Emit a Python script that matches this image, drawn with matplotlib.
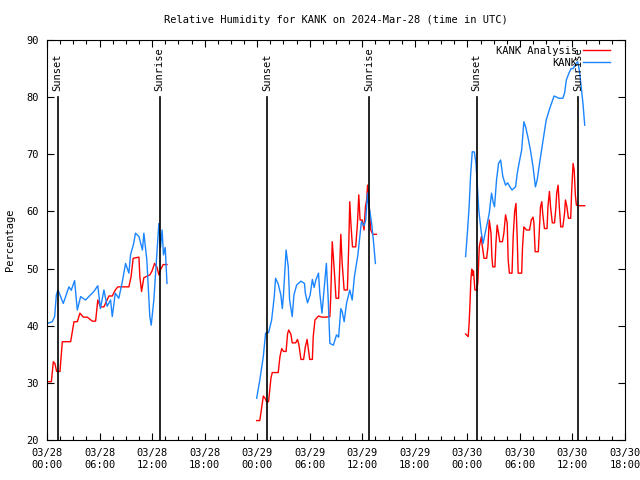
import matplotlib
matplotlib.use('Agg')
import matplotlib.pyplot as plt
import matplotlib.dates as mdates
import numpy as np
import pandas as pd

plt.rcParams['font.family'] = 'DejaVu Sans Mono'
plt.rcParams['font.size'] = 7

start = pd.Timestamp('2024-03-28 00:00')

# hours after 03/28 00:00 UTC
obs_hours = [0.04, 0.6, 0.87, 1.07, 1.25, 1.86, 2.5, 2.77, 3.15, 3.46, 3.84, 4.4, 4.98, 5.36, 5.8,
             6.1, 6.5, 6.87, 7.26, 7.45, 7.8, 8.2, 8.6, 8.97, 9.35, 9.54, 9.9, 10.1, 10.5, 10.9,
             11.06, 11.4, 11.74, 11.9, 12.2, 12.5, 12.77, 12.96, 13.14, 13.3, 13.5, 13.7,
             None,
             23.94, 24.3, 24.7, 24.96, 25.3, 25.65, 25.95, 26.1, 26.4, 26.7, 26.87, 27.0, 27.3,
             27.55, 27.7, 28.0, 28.2, 28.5, 29.0, 29.4, 29.5, 29.75, 30.05, 30.3, 30.5, 30.7,
             31.0, 31.15, 31.4, 31.7, 31.9, 32.1, 32.3, 32.7, 33.06, 33.3, 33.55, 33.7, 33.93,
             34.2, 34.57, 34.85, 35.1, 35.5, 35.9, 36.2, 36.4, 36.6, 36.7, 36.9, 37.1, 37.3, 37.5,
             None,
             47.8, 48.0, 48.2, 48.37, 48.56, 48.8, 48.98, 49.13, 49.3, 49.6, 49.8, 50.07, 50.27,
             50.5, 50.76, 50.95, 51.1, 51.33, 51.56, 51.8, 52.05, 52.36, 52.6, 52.86, 53.1, 53.5,
             53.7, 53.9, 54.2, 54.45, 54.65, 54.9, 55.2, 55.5, 55.77, 55.97, 56.3, 56.65, 57.0,
             57.4, 57.9, 58.2, 58.44, 58.9, 59.1, 59.3, 59.6, 59.84, 60.1, 60.4, 60.6, 60.8,
             61.0, 61.2, 61.4]
obs_rh = [40.4, 40.7, 41.6, 45.4, 46.25, 43.9, 46.8, 46.2, 47.9, 42.75, 45.1, 44.5, 45.4, 46.0, 47.0,
          43.0, 46.25, 43.4, 44.5, 41.6, 45.7, 44.8, 47.7, 50.9, 49.2, 52.4, 54.4, 56.2, 55.6, 53.25,
          56.2, 51.5, 41.6, 40.1, 44.5, 51.5, 57.9, 53.7, 56.75, 52.4, 53.7, 47.4,
          None,
          27.3, 30.5, 34.6, 38.7, 38.8, 41.0, 45.1, 48.3, 47.3, 45.4, 43.0, 45.4, 53.25,
          50.3, 44.5, 41.6, 45.4, 47.1, 47.8, 47.4, 45.7, 44.0, 45.4, 48.1, 46.7, 48.0,
          49.2, 45.7, 42.2, 47.4, 50.9, 45.0, 36.9, 36.6, 38.4, 38.0, 43.0, 42.5, 40.7,
          43.9, 46.25, 44.5, 48.6, 52.4, 58.2, 57.5, 58.5, 63.2, 61.5, 59.7, 57.5, 54.4, 50.9,
          None,
          52.1, 56.2, 60.8, 66.4, 70.45, 70.4, 68.4, 64.9, 60.25, 56.2, 54.4, 56.5, 57.9,
          59.7, 63.2, 61.6, 60.8, 65.5, 68.4, 69.0, 66.1, 64.6, 65.0, 64.3, 63.75, 64.3,
          66.7, 68.4, 70.75, 75.7, 74.8, 73.1, 70.75, 67.8, 64.3, 65.5, 69.0, 72.5, 76.0,
          78.0, 80.2, 80.0, 79.8, 79.8, 80.7, 83.0, 84.2, 85.0, 85.0, 85.9, 86.2, 84.6,
          81.8, 78.9, 75.1]

ana_hours = [0.04, 0.5, 0.72, 0.9, 1.1, 1.48, 1.75, 2.7, 3.08, 3.46, 3.76, 4.14, 4.6, 5.17, 5.55,
             5.8, 6.1, 6.5, 7.07, 7.45, 7.8, 8.09, 9.35, 9.6, 9.84, 10.5, 10.6, 10.8, 11.06,
             11.74, 12.0, 12.28, 12.57, 12.77, 12.96, 13.26, 13.7,
             None,
             23.94, 24.3, 24.5, 24.7, 24.9, 25.07, 25.3, 25.57, 25.72, 26.4, 26.6, 26.8, 27.0,
             27.3, 27.47, 27.6, 27.85, 28.0, 28.4, 28.6, 28.76, 29.0, 29.3, 29.5, 29.7, 29.9,
             30.0, 30.3, 30.4, 30.6, 31.0, 31.4, 31.9, 32.3, 32.4, 32.5, 32.57, 32.7, 32.85,
             33.0, 33.3, 33.43, 33.55, 33.7, 33.93, 34.3, 34.46, 34.57, 34.7, 34.88, 35.25,
             35.45, 35.6, 35.75, 36.0, 36.2, 36.36, 36.5, 36.6, 36.75, 36.97, 37.2, 37.6,
             None,
             47.8, 48.1, 48.2, 48.3, 48.4, 48.5, 48.6, 48.7, 48.86, 49.1, 49.2, 49.36, 49.6,
             49.7, 49.9, 50.2, 50.35, 50.5, 50.7, 50.8, 50.9, 51.15, 51.26, 51.4, 51.56, 51.7,
             52.0, 52.17, 52.36, 52.55, 52.66, 52.8, 53.1, 53.23, 53.4, 53.55, 53.7, 53.8,
             54.2, 54.3, 54.45, 54.75, 55.1, 55.3, 55.5, 55.6, 55.74, 56.1, 56.2, 56.35,
             56.5, 56.6, 56.8, 57.1, 57.2, 57.37, 57.5, 57.7, 57.95, 58.1, 58.2, 58.36, 58.5,
             58.66, 58.9, 59.1, 59.2, 59.37, 59.54, 59.8, 59.9, 60.07, 60.2, 60.33, 60.45,
             60.8, 61.4]
ana_rh = [30.2, 30.2, 33.7, 33.4, 32.0, 32.0, 37.2, 37.2, 40.7, 40.7, 42.2, 41.5, 41.5, 40.8, 40.8,
          44.5, 43.3, 43.3, 45.2, 45.2, 46.25, 46.8, 46.8, 48.6, 51.8, 52.0, 48.6, 46.0, 48.4,
          48.9, 49.6, 50.9, 50.2, 48.9, 49.8, 50.7, 50.7,
          None,
          23.4, 23.4, 25.5, 27.7, 27.3, 26.7, 26.7, 30.8, 31.8, 31.8, 34.6, 36.0, 35.5,
          35.5, 38.6, 39.25, 38.5, 37.0, 37.0, 37.6, 36.7, 34.1, 34.1, 36.3, 37.6, 35.2,
          34.1, 34.1, 38.1, 41.0, 41.7, 41.5, 41.5, 41.6, 45.1, 50.9, 54.7, 52.0, 48.6,
          44.8, 44.8, 50.6, 56.0, 51.0, 46.25, 46.25, 54.4, 61.7, 57.9, 53.8, 53.8,
          57.9, 62.9, 58.5, 58.5, 56.75, 60.8, 62.0, 64.6, 62.0, 56.75, 56.0, 56.0,
          None,
          38.55, 38.1, 40.4, 43.9, 48.0, 49.9, 48.8, 49.6, 46.25, 46.2, 47.7, 53.8, 55.6,
          54.0, 51.8, 51.8, 53.8, 58.5, 56.2, 52.1, 50.3, 50.3, 54.4, 57.6, 56.2, 54.7,
          54.7, 56.2, 59.4, 58.0, 51.5, 49.2, 49.2, 55.6, 60.0, 61.4, 55.0, 49.2,
          49.2, 53.8, 57.3, 56.75, 56.75, 58.5, 59.0, 58.0, 52.95, 52.95, 56.2, 60.8,
          61.7, 59.7, 57.0, 57.0, 60.8, 63.5, 60.8, 58.0, 58.0, 60.5, 63.2, 64.6, 60.8,
          57.3, 57.3, 59.7, 62.0, 60.8, 58.8, 58.8, 63.2, 68.4, 67.2, 62.9, 61.1,
          61.0, 61.0]

sun_hours = [1.2, 12.85, 25.15, 36.75, 49.05, 60.65]
sun_labels = ['Sunset', 'Sunrise', 'Sunset', 'Sunrise', 'Sunset', 'Sunrise']


def to_times(hours):
    # None marks a gap in the record
    h = np.array([np.nan if v is None else v for v in hours])
    return mdates.date2num(start.to_pydatetime()) + h / 24.0


def to_vals(vals):
    return np.array([np.nan if v is None else v for v in vals])


fig = plt.figure(figsize=(6.4, 4.8), dpi=100)
ax = fig.add_axes([47 / 640, 40 / 480, 578 / 640, 400 / 480])

ax.plot(to_times(ana_hours), to_vals(ana_rh), color='#ff0000', linewidth=1.0, label='KANK Analysis')
ax.plot(to_times(obs_hours), to_vals(obs_rh), color='#1a85ff', linewidth=1.0, label='KANK')

for t, lab in zip(to_times(sun_hours), sun_labels):
    ax.plot([t, t], [20, 80], color='black', linewidth=1.2)
    ax.text(t, 81, lab, rotation=90, ha='center', va='bottom', fontsize=7.5)

t0, t1 = to_times([0, 66])
ax.set_xlim(t0, t1)
ax.set_ylim(20, 90)
ax.set_yticks(range(20, 91, 10))
ax.xaxis_date()
ax.xaxis.set_major_locator(mdates.HourLocator(byhour=[0, 6, 12, 18]))
ax.set_xticks(to_times([1.5 * i for i in range(45)]), minor=True)
ax.xaxis.set_major_formatter(mdates.DateFormatter('%m/%d\n%H:%M'))

ax.tick_params(which='both', direction='in', top=True, right=True, labelsize=7.5)
ax.tick_params(which='major', length=5, width=0.8, pad=6)
ax.tick_params(which='minor', length=3, width=0.8)
for s in ax.spines.values():
    s.set_linewidth(0.8)

ax.set_ylabel('Percentage', fontsize=7.5, labelpad=8)
ax.set_title('Relative Humidity for KANK on 2024-Mar-28 (time in UTC)', fontsize=7.5, pad=12)

leg = ax.legend(loc='upper right', bbox_to_anchor=(0.974, 0.985), frameon=False,
                markerfirst=False, fontsize=7.5, handlelength=2.6, handletextpad=0.5,
                labelspacing=0.15, borderaxespad=0, borderpad=0)

fig.savefig('out.png', dpi=100)
